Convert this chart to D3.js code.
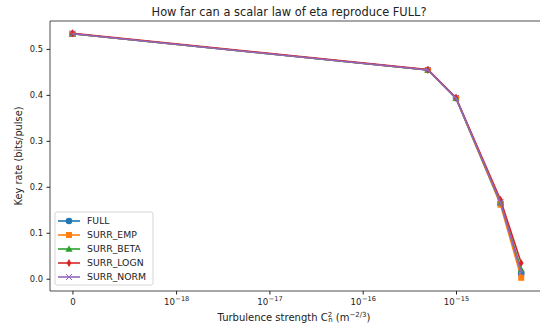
<!DOCTYPE html>
<html>
<head>
  <meta charset="utf-8">
  <title>Key rate vs turbulence</title>
  <style>
    body { margin: 0; background: #fff; }
    text { font-family: "DejaVu Sans", sans-serif; fill: #222; }
  </style>
</head>
<body>
  <svg width="540" height="323"></svg>
  <script src="https://cdn.jsdelivr.net/npm/d3@7"></script>
  <script>
  // data
  var cn2 = [0, 5e-16, 1e-15, 3e-15, 5e-15];
  var full = [0.533, 0.454, 0.393, 0.165, 0.012];
  var surrEmp = [0.533, 0.454, 0.393, 0.161, 0.002];
  var surrBeta = [0.533, 0.454, 0.393, 0.165, 0.020];
  var surrLogn = [0.534, 0.455, 0.394, 0.172, 0.034];
  var surrNorm = [0.533, 0.454, 0.393, 0.166, 0.013];
  var xTicks = [0, 1e-18, 1e-17, 1e-16, 1e-15];
  var yTicks = [0, 0.1, 0.2, 0.3, 0.4, 0.5];

  var series = [
    { name: "FULL", values: full, color: "#1f77b4", marker: "circle" },
    { name: "SURR_EMP", values: surrEmp, color: "#ff7f0e", marker: "square" },
    { name: "SURR_BETA", values: surrBeta, color: "#2ca02c", marker: "triangle" },
    { name: "SURR_LOGN", values: surrLogn, color: "#d62728", marker: "diamond" },
    { name: "SURR_NORM", values: surrNorm, color: "#9467bd", marker: "cross" }
  ];

  // symlog like matplotlib, linthresh 1e-18, linscale 1
  var linthresh = 1e-18;
  var linscaleAdj = 1 / (1 - 1 / 10);
  function symlog(v) {
    var a = Math.abs(v);
    if (a <= linthresh) return v / linthresh * linscaleAdj;
    return Math.sign(v) * (linscaleAdj + Math.log10(a / linthresh));
  }

  var mLeft = 50, mTop = 21, mBottom = 291;
  var tMax = symlog(d3.max(cn2));
  var pad = tMax * 0.05;
  var pxPerUnit = 93.3;
  var x = d3.scaleLinear()
    .domain([-pad, tMax + pad])
    .range([mLeft, mLeft + (tMax + 2 * pad) * pxPerUnit]);
  var yMax = 0.534;
  var y = d3.scaleLinear()
    .domain([-yMax * 0.05, yMax * 1.05])
    .range([mBottom, mTop]);

  var svg = d3.select("svg");

  // title
  svg.append("text")
    .attr("x", 289).attr("y", 15.5)
    .attr("text-anchor", "middle")
    .style("font-size", "11.4px")
    .text("How far can a scalar law of eta reproduce FULL?");

  // y axis
  var yAxis = svg.append("g")
    .attr("transform", "translate(" + mLeft + ",0)")
    .call(d3.axisLeft(y).tickValues(yTicks).tickFormat(d3.format(".1f")).tickSize(3.5).tickPadding(3.5));
  yAxis.select(".domain").remove();
  yAxis.selectAll("text").style("font-size", "8.3px");
  yAxis.selectAll("line").attr("stroke", "#222");

  // x axis
  var xAxis = svg.append("g")
    .attr("transform", "translate(0," + mBottom + ")")
    .call(d3.axisBottom(x).tickValues(xTicks.map(symlog)).tickFormat("").tickSize(3.5));
  xAxis.select(".domain").remove();
  xAxis.selectAll("line").attr("stroke", "#222");
  xAxis.selectAll(".tick").each(function(d, i) {
    var t = d3.select(this).append("text")
      .attr("y", 14)
      .attr("text-anchor", "middle")
      .style("font-size", "8.6px");
    var v = xTicks[i];
    if (v === 0) { t.text("0"); return; }
    t.append("tspan").text("10");
    t.append("tspan").attr("dy", -4).attr("dx", 0.5).style("font-size", "6.6px")
      .text("\u2212" + Math.round(-Math.log10(v)));
  });

  // spines
  svg.append("line").attr("x1", mLeft).attr("x2", mLeft).attr("y1", mTop).attr("y2", mBottom)
    .attr("stroke", "#222").attr("stroke-width", 0.8);
  svg.append("line").attr("x1", mLeft).attr("x2", 545).attr("y1", mBottom).attr("y2", mBottom)
    .attr("stroke", "#222").attr("stroke-width", 0.8);
  svg.append("line").attr("x1", mLeft).attr("x2", 545).attr("y1", mTop).attr("y2", mTop)
    .attr("stroke", "#222").attr("stroke-width", 0.8);

  // axis labels
  var xl = svg.append("text")
    .attr("x", 294).attr("y", 320.5)
    .attr("text-anchor", "middle")
    .style("font-size", "10px");
  xl.append("tspan").text("Turbulence strength C");
  xl.append("tspan").attr("dy", -4).style("font-size", "7px").text("2");
  xl.append("tspan").attr("dx", -4).attr("dy", 5.5).style("font-size", "7px").text("n");
  xl.append("tspan").attr("dy", -1.5).text(" (m");
  xl.append("tspan").attr("dy", -4).style("font-size", "7px").text("\u22122/3");
  xl.append("tspan").attr("dy", 4).text(")");

  svg.append("text")
    .attr("transform", "translate(22," + ((mTop + mBottom) / 2) + ") rotate(-90)")
    .attr("text-anchor", "middle")
    .style("font-size", "9.8px")
    .text("Key rate (bits/pulse)");

  function drawMarker(g, kind, color, size) {
    var s = size;
    if (kind === "circle") {
      g.append("circle").attr("r", s * 0.55).attr("fill", color);
    } else if (kind === "square") {
      g.append("rect").attr("x", -s / 2).attr("y", -s / 2).attr("width", s).attr("height", s).attr("fill", color);
    } else if (kind === "triangle") {
      g.append("path").attr("d", "M0," + (-s * 0.6) + "L" + (s * 0.6) + "," + (s * 0.45) + "L" + (-s * 0.6) + "," + (s * 0.45) + "Z").attr("fill", color);
    } else if (kind === "diamond") {
      g.append("path").attr("d", "M0," + (-s * 0.65) + "L" + (s * 0.4) + ",0L0," + (s * 0.65) + "L" + (-s * 0.4) + ",0Z").attr("fill", color);
    } else {
      g.append("path").attr("d", "M" + (-s / 2) + "," + (-s / 2) + "L" + (s / 2) + "," + (s / 2) + "M" + (-s / 2) + "," + (s / 2) + "L" + (s / 2) + "," + (-s / 2))
        .attr("stroke", color).attr("stroke-width", 1);
    }
  }

  var line = d3.line()
    .x(function(d) { return x(symlog(d[0])); })
    .y(function(d) { return y(d[1]); });

  var plot = svg.append("g");
  series.forEach(function(s) {
    var pts = cn2.map(function(c, i) { return [c, s.values[i]]; });
    plot.append("path")
      .attr("d", line(pts))
      .attr("fill", "none")
      .attr("stroke", s.color)
      .attr("stroke-width", 1.6);
    pts.forEach(function(p) {
      var g = plot.append("g").attr("transform", "translate(" + x(symlog(p[0])) + "," + y(p[1]) + ")");
      drawMarker(g, s.marker, s.color, 6);
    });
  });

  // legend
  var lg = svg.append("g").attr("transform", "translate(55,212)");
  lg.append("rect").attr("width", 98).attr("height", 73).attr("rx", 2)
    .attr("fill", "#fff").attr("fill-opacity", 0.8).attr("stroke", "#ccc").attr("stroke-width", 0.8);
  series.forEach(function(s, i) {
    var ry = 9 + i * 14;
    lg.append("line").attr("x1", 3).attr("x2", 25).attr("y1", ry).attr("y2", ry)
      .attr("stroke", s.color).attr("stroke-width", 1.6);
    drawMarker(lg.append("g").attr("transform", "translate(14," + ry + ")"), s.marker, s.color, 6);
    lg.append("text").attr("x", 32).attr("y", ry + 3.4)
      .style("font-size", "9.3px").text(s.name);
  });
  </script>
</body>
</html>
